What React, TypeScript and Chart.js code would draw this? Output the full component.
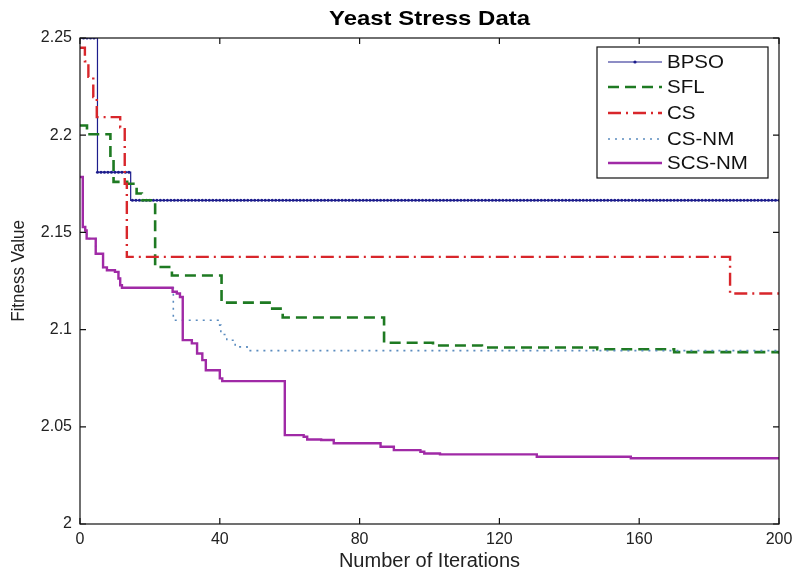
import React, { useEffect, useRef } from "react";
import { Chart, registerables } from "chart.js";
Chart.register(...registerables);

const titleText = "Yeast Stress Data";
const xTitle = "Number of Iterations";
const yTitle = "Fitness Value";
const xTicks = [0, 40, 80, 120, 160, 200];
const yTicks = [2, 2.05, 2.1, 2.15, 2.2, 2.25];
const seriesNames = ["BPSO", "SFL", "CS", "CS-NM", "SCS-NM"];

const bpsoX = [0, 5, 14.5, 200];
const bpsoY = [2.25, 2.181, 2.1665, 2.1665];

const sflX = [0, 2, 8.7, 9.6, 13.5, 16.2, 17.7, 21.5, 26.3, 40.5, 55, 58, 87, 101, 115, 148, 170, 200];
const sflY = [2.205, 2.2005, 2.188, 2.176, 2.175, 2.17, 2.1665, 2.1322, 2.1278, 2.1139, 2.1108, 2.1062, 2.0932, 2.0918, 2.0908, 2.0899, 2.0884, 2.0876];

const csX = [0, 1.4, 2.4, 3.8, 4.8, 11.5, 12.8, 13.4, 186, 200];
const csY = [2.245, 2.238, 2.23, 2.2196, 2.2093, 2.204, 2.175, 2.1374, 2.1186, 2.1186];

const csnmX = [0, 0.8, 1.5, 1.9, 4.5, 6.6, 7.7, 10, 11, 11.5, 12, 26.7, 39.5, 40.3, 42, 44.4, 47.8, 200];
const csnmY = [2.1785, 2.1528, 2.151, 2.1468, 2.139, 2.132, 2.1305, 2.1297, 2.1263, 2.1228, 2.1215, 2.1048, 2.1023, 2.0975, 2.0945, 2.0911, 2.0892, 2.0887];

const scsnmX = [0, 0.8, 1.5, 1.9, 4.5, 6.6, 7.7, 10, 11, 11.5, 12, 26.5, 27.7, 28.6, 29.4, 32, 33.5, 35, 36, 40, 40.7, 58.6, 64, 65, 69, 72.6, 86, 89.8, 97.4, 98.5, 103, 130.7, 157.6, 200];
const scsnmY = [2.1785, 2.1528, 2.151, 2.1468, 2.139, 2.132, 2.1305, 2.1297, 2.1263, 2.1228, 2.1215, 2.1195, 2.1186, 2.1168, 2.0946, 2.0929, 2.0877, 2.0843, 2.0791, 2.0749, 2.0735, 2.0457, 2.0449, 2.0435, 2.0432, 2.0415, 2.0397, 2.038, 2.0372, 2.0363, 2.0358, 2.0346, 2.0338, 2.0338];

const FONT = "'Liberation Sans', Arial, sans-serif";

function pts(xs: number[], ys: number[]) {
  return xs.map((x, i) => ({ x, y: ys[i] }));
}

// step points plus a marker sample at each integer iteration (values taken from the step data)
function withMarkers(xs: number[], ys: number[]) {
  const out: { x: number; y: number }[] = [];
  const set = new Set<number>(xs);
  for (let i = 0; i <= 200; i++) set.add(i);
  const all = Array.from(set).sort((a, b) => a - b);
  for (const x of all) {
    let k = 0;
    for (let j = 0; j < xs.length; j++) if (xs[j] <= x) k = j;
    out.push({ x, y: ys[k] });
  }
  return out;
}

function stretchedText(ctx: any, text: string, x: number, y: number, sx: number) {
  ctx.save();
  ctx.translate(x, y);
  ctx.scale(sx, 1);
  ctx.fillText(text, 0, 0);
  ctx.restore();
}

const framePlugin = {
  id: "frame",
  afterDatasetsDraw(chart: any) {
    const { ctx, chartArea } = chart;
    const { left, right, top, bottom } = chartArea;
    const xs = chart.scales.x;
    const ys = chart.scales.y;
    ctx.save();
    ctx.strokeStyle = "#111";
    ctx.lineWidth = 1.2;
    ctx.setLineDash([]);
    ctx.strokeRect(left, top, right - left, bottom - top);
    const tl = 6;
    ctx.beginPath();
    for (const t of xTicks) {
      const px = xs.getPixelForValue(t);
      ctx.moveTo(px, bottom);
      ctx.lineTo(px, bottom - tl);
      ctx.moveTo(px, top);
      ctx.lineTo(px, top + tl);
    }
    for (const t of yTicks) {
      const py = ys.getPixelForValue(t);
      ctx.moveTo(left, py);
      ctx.lineTo(left + tl, py);
      ctx.moveTo(right, py);
      ctx.lineTo(right - tl, py);
    }
    ctx.stroke();
    ctx.restore();
  },
  afterDraw(chart: any) {
    const { ctx, chartArea } = chart;
    const cx = (chartArea.left + chartArea.right) / 2;
    ctx.save();
    // title
    ctx.fillStyle = "#000";
    ctx.font = `bold 21px ${FONT}`;
    ctx.textAlign = "center";
    ctx.textBaseline = "alphabetic";
    stretchedText(ctx, titleText, cx, 25, 1.14);
    // axis titles
    ctx.fillStyle = "#222";
    ctx.font = `20px ${FONT}`;
    ctx.textAlign = "center";
    ctx.textBaseline = "alphabetic";
    ctx.fillText(xTitle, cx, 566.5);
    ctx.save();
    ctx.translate(24, 271);
    ctx.rotate(-Math.PI / 2);
    ctx.font = `17px ${FONT}`;
    ctx.scale(1, 1.12);
    ctx.fillText(yTitle, 0, 0);
    ctx.restore();
    // legend
    const bx = 597, by = 47, bw = 171, bh = 131;
    ctx.fillStyle = "#fff";
    ctx.fillRect(bx, by, bw, bh);
    ctx.strokeStyle = "#111";
    ctx.lineWidth = 1.2;
    ctx.setLineDash([]);
    ctx.strokeRect(bx, by, bw, bh);
    const rows = [62, 87, 113, 139, 163];
    chart.data.datasets.forEach((ds: any, i: number) => {
      const y = rows[i];
      ctx.save();
      ctx.strokeStyle = ds.borderColor;
      ctx.lineWidth = ds.borderWidth;
      ctx.setLineDash(ds.borderDash || []);
      ctx.beginPath();
      ctx.moveTo(608, y);
      ctx.lineTo(662, y);
      ctx.stroke();
      if (i === 0) {
        ctx.setLineDash([]);
        ctx.fillStyle = ds.borderColor;
        ctx.beginPath();
        ctx.arc(635, y, 1.6, 0, Math.PI * 2);
        ctx.fill();
      }
      ctx.restore();
      ctx.fillStyle = "#111";
      ctx.font = `19px ${FONT}`;
      ctx.textAlign = "left";
      ctx.textBaseline = "middle";
      stretchedText(ctx, ds.label, 667, y + 1, 1.08);
    });
    ctx.restore();
  },
};

export default function App() {
  const ref = useRef<HTMLCanvasElement>(null);
  useEffect(() => {
    const canvas = ref.current!;
    const chart = new Chart(canvas, {
      type: "line",
      data: {
        datasets: [
          {
            label: seriesNames[0],
            data: withMarkers(bpsoX, bpsoY),
            borderColor: "#1c1c8c",
            backgroundColor: "#1c1c8c",
            borderWidth: 1.2,
            stepped: "before",
            pointRadius: (c: any) => (Number.isInteger(c.raw?.x) ? 1.5 : 0),
            pointBorderWidth: 0,
            order: 5,
          },
          {
            label: seriesNames[1],
            data: pts(sflX, sflY),
            borderColor: "#1e7a22",
            borderWidth: 2.6,
            borderDash: [11, 6],
            stepped: "before",
            pointRadius: 0,
            order: 4,
          },
          {
            label: seriesNames[2],
            data: pts(csX, csY),
            borderColor: "#d8262b",
            borderWidth: 2.4,
            borderDash: [13, 5, 2, 5],
            stepped: "before",
            pointRadius: 0,
            order: 3,
          },
          {
            label: seriesNames[3],
            data: pts(csnmX, csnmY),
            borderColor: "#5b8cbf",
            borderWidth: 1.6,
            borderDash: [2, 5],
            stepped: "before",
            pointRadius: 0,
            order: 2,
          },
          {
            label: seriesNames[4],
            data: pts(scsnmX, scsnmY),
            borderColor: "#a02aa6",
            borderWidth: 2.4,
            stepped: "before",
            pointRadius: 0,
            order: 1,
          },
        ],
      } as any,
      options: {
        animation: false,
        responsive: false,
        layout: { padding: { top: 38, right: 16, left: 0, bottom: 0 } },
        plugins: {
          legend: { display: false },
          title: { display: false },
          tooltip: { enabled: false },
        },
        scales: {
          x: {
            type: "linear",
            min: 0,
            max: 200,
            afterBuildTicks: (s: any) => {
              s.ticks = xTicks.map((v) => ({ value: v }));
            },
            afterFit: (s: any) => {
              s.height = 48;
              s.paddingLeft = 0;
              s.paddingRight = 0;
            },
            grid: { display: false, drawTicks: false },
            border: { display: false },
            ticks: {
              padding: 6,
              color: "#222",
              font: { family: FONT, size: 16 },
              maxRotation: 0,
              callback: (v: any) => String(v),
            },
            title: { display: false },
          },
          y: {
            type: "linear",
            min: 2,
            max: 2.25,
            afterBuildTicks: (s: any) => {
              s.ticks = yTicks.map((v) => ({ value: v }));
            },
            afterFit: (s: any) => {
              s.width = 80;
              s.paddingTop = 0;
              s.paddingBottom = 0;
            },
            grid: { display: false, drawTicks: false },
            border: { display: false },
            ticks: {
              padding: 8,
              color: "#222",
              font: { family: FONT, size: 16 },
              callback: (v: any) => String(Number(Number(v).toFixed(2))),
            },
            title: { display: false },
          },
        },
      } as any,
      plugins: [framePlugin],
    });
    return () => chart.destroy();
  }, []);
  return (
    <div style={{ position: "absolute", left: 0, top: 0, width: 795, height: 572, background: "#fff" }}>
      <canvas ref={ref} width={795} height={572} style={{ display: "block" }} />
    </div>
  );
}
